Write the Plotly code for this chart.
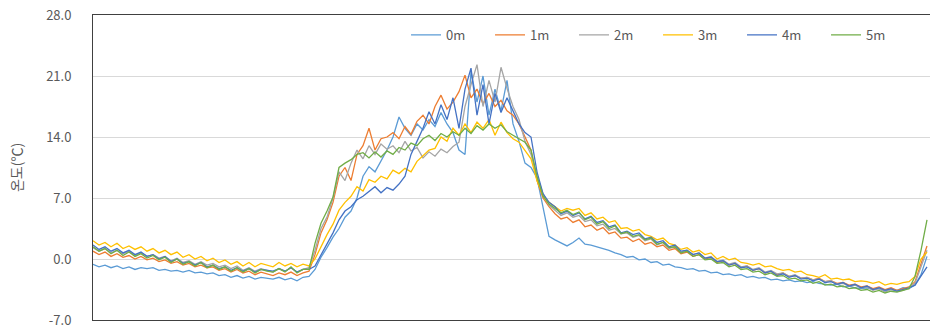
import plotly.graph_objects as go

series_names = ["0m", "1m", "2m", "3m", "4m", "5m"]
colors = ["#5B9BD5", "#ED7D31", "#A5A5A5", "#FFC000", "#4472C4", "#70AD47"]

t0m = [-0.6,-0.9,-0.7,-1.0,-0.8,-1.1,-0.9,-1.2,-1.0,-1.1,
       -1.0,-1.3,-1.2,-1.4,-1.3,-1.5,-1.3,-1.6,-1.5,-1.7,
       -1.6,-1.9,-1.8,-2.1,-1.9,-2.2,-2.0,-2.3,-2.1,-2.2,
       -2.3,-2.1,-2.4,-2.2,-2.5,-2.1,-2.0,-1.2,0.2,1.3,
       2.5,3.5,4.8,5.5,7.0,9.5,10.6,10.0,11.2,12.5,
       14.0,16.3,15.0,14.2,15.5,14.8,16.0,15.2,16.8,15.5,
       14.5,12.5,12.0,21.5,18.0,21.0,16.5,19.5,17.0,20.5,
       15.5,13.5,11.0,10.5,9.3,5.9,2.6,2.2,1.8,1.5,
       1.9,2.4,1.7,1.6,1.4,1.2,1.0,0.7,0.5,0.2,
       0.3,-0.1,0.0,-0.4,-0.3,-0.7,-0.6,-0.9,-1.0,-1.2,
       -1.1,-1.4,-1.3,-1.6,-1.5,-1.8,-1.7,-1.9,-1.8,-2.1,
       -2.0,-2.2,-2.1,-2.4,-2.3,-2.5,-2.4,-2.6,-2.5,-2.7,
       -2.6,-2.8,-2.9,-3.0,-2.9,-3.2,-3.1,-3.3,-3.4,-3.3,
       -3.5,-3.4,-3.7,-3.5,-3.6,-3.3,-3.4,-3.0,-1.8,0.3]

t1m = [0.9,0.5,0.8,0.3,0.6,0.2,0.4,0.0,0.3,-0.1,
       0.1,-0.3,-0.1,-0.5,-0.3,-0.7,-0.5,-0.9,-0.7,-1.0,
       -0.9,-1.3,-1.1,-1.5,-1.2,-1.6,-1.4,-1.8,-1.5,-1.7,
       -1.9,-1.6,-1.8,-1.5,-1.9,-1.6,-1.4,0.5,3.0,4.5,
       6.5,9.5,10.5,9.0,12.0,13.0,15.0,12.5,13.8,14.0,
       14.5,13.8,15.2,14.3,15.8,16.5,15.5,17.5,18.8,17.2,
       18.0,19.2,21.1,18.5,19.5,17.8,19.0,17.5,18.2,17.0,
       16.5,15.5,14.0,12.5,9.0,7.0,6.0,5.2,4.6,4.8,
       4.2,4.5,3.7,3.9,3.3,3.6,2.9,3.1,2.4,2.5,
       2.0,2.3,1.7,1.9,1.4,1.6,1.0,1.2,0.6,0.8,
       0.3,0.5,0.0,0.2,-0.4,-0.2,-0.7,-0.5,-1.0,-0.8,
       -1.3,-1.1,-1.6,-1.4,-1.8,-1.6,-2.0,-1.9,-2.2,-2.1,
       -2.4,-2.2,-2.6,-2.5,-2.8,-2.7,-3.0,-2.9,-3.2,-3.1,
       -3.4,-3.2,-3.5,-3.3,-3.6,-3.4,-3.2,-2.6,-0.5,1.5]

t2m = [1.3,0.9,1.2,0.7,1.0,0.6,0.9,0.4,0.7,0.3,
       0.5,0.1,0.3,-0.2,0.1,-0.4,-0.2,-0.6,-0.3,-0.7,
       -0.5,-0.9,-0.7,-1.1,-0.8,-1.3,-1.0,-1.4,-1.1,-1.3,
       -1.5,-1.1,-1.4,-1.0,-1.5,-1.2,-1.0,1.0,3.5,4.8,
       7.0,10.0,9.0,11.0,12.5,11.5,13.0,12.0,13.2,12.6,
       13.0,12.2,13.5,12.4,12.8,11.6,12.3,11.8,12.6,12.2,
       12.9,13.4,17.5,20.0,22.3,17.5,20.5,18.0,22.0,19.6,
       17.5,16.0,13.5,12.0,9.5,7.5,6.2,5.6,5.0,5.3,
       4.8,5.0,4.3,4.5,3.8,4.0,3.3,3.5,2.9,3.0,
       2.5,2.7,2.1,2.3,1.6,1.9,1.2,1.4,0.8,1.0,
       0.5,0.7,0.1,0.3,-0.3,-0.1,-0.6,-0.4,-0.9,-0.8,
       -1.2,-1.0,-1.5,-1.3,-1.7,-1.6,-2.0,-1.8,-2.2,-2.1,
       -2.4,-2.3,-2.6,-2.5,-2.9,-2.8,-3.1,-3.0,-3.3,-3.2,
       -3.6,-3.4,-3.8,-3.5,-3.7,-3.6,-3.3,-2.8,-1.0,1.0]

t3m = [2.1,1.6,1.9,1.4,1.8,1.2,1.5,1.1,1.4,0.9,
       1.2,0.7,1.0,0.5,0.8,0.2,0.5,0.0,0.3,-0.2,
       0.1,-0.4,-0.1,-0.6,-0.3,-0.8,-0.4,-0.9,-0.5,-0.7,
       -0.9,-0.4,-0.8,-0.5,-0.9,-0.6,-0.8,0.0,1.5,2.8,
       4.0,5.6,6.5,7.2,8.3,7.8,9.1,8.8,9.5,9.2,
       10.2,9.8,10.4,10.0,11.2,11.8,12.5,12.7,14.0,13.5,
       15.0,14.2,15.5,14.5,15.7,15.0,16.0,14.2,15.7,14.5,
       13.8,13.4,12.5,11.5,9.0,7.3,6.5,6.0,5.5,5.8,
       5.6,5.8,5.0,5.3,4.6,4.8,4.2,4.4,3.5,3.6,
       3.2,3.4,2.8,2.6,2.2,2.4,1.8,1.6,1.1,1.3,
       0.8,1.0,0.5,0.7,0.0,0.3,-0.1,0.1,-0.4,-0.5,
       -0.7,-0.5,-0.9,-0.8,-1.1,-1.3,-1.2,-1.5,-1.4,-1.8,
       -1.9,-2.1,-1.8,-2.3,-2.2,-2.4,-2.3,-2.6,-2.5,-2.6,
       -2.8,-2.6,-3.0,-2.8,-2.9,-2.7,-2.6,-2.0,0.0,0.8]

t4m = [1.6,1.1,1.4,0.9,1.2,0.7,1.0,0.5,0.8,0.3,
       0.5,0.0,0.3,-0.3,0.0,-0.5,-0.3,-0.7,-0.4,-0.9,
       -0.7,-1.1,-0.9,-1.3,-1.0,-1.4,-1.1,-1.5,-1.2,-1.3,
       -1.4,-1.1,-1.4,-1.0,-1.5,-1.2,-1.2,-0.8,0.5,1.8,
       3.0,4.5,5.5,6.0,6.8,7.2,7.8,8.3,7.6,8.2,
       7.9,8.6,9.5,12.0,13.5,15.0,16.9,15.5,17.7,16.0,
       18.5,15.0,19.5,21.9,16.5,20.0,15.5,19.0,16.8,18.5,
       17.0,15.5,14.5,14.0,10.0,7.5,6.5,6.0,5.2,5.5,
       5.0,5.3,4.6,4.9,4.2,4.4,3.7,3.9,3.0,3.2,
       2.8,3.0,2.3,2.5,1.9,2.1,1.4,1.6,0.9,1.0,
       0.5,0.7,0.1,0.2,-0.3,-0.2,-0.7,-0.5,-1.0,-0.9,
       -1.3,-1.1,-1.6,-1.4,-1.9,-1.7,-2.1,-1.9,-2.3,-2.2,
       -2.5,-2.3,-2.7,-2.6,-2.9,-2.7,-3.1,-2.9,-3.3,-3.1,
       -3.5,-3.3,-3.6,-3.4,-3.7,-3.5,-3.3,-3.0,-2.0,-0.9]

t5m = [1.4,0.9,1.2,0.6,1.0,0.4,0.8,0.3,0.6,0.1,
       0.4,-0.1,0.2,-0.4,0.0,-0.6,-0.3,-0.8,-0.4,-1.0,
       -0.7,-1.2,-0.9,-1.4,-1.0,-1.5,-1.1,-1.6,-1.2,-1.4,
       -1.5,-1.1,-1.5,-0.9,-1.6,-1.2,-1.2,1.8,4.1,5.5,
       7.1,10.5,11.0,11.4,12.0,12.2,11.6,12.3,11.7,12.4,
       12.0,12.8,12.5,13.3,13.0,13.8,14.2,13.6,14.4,14.0,
       14.6,14.2,15.0,14.4,15.3,14.8,15.5,15.0,15.4,14.6,
       14.2,13.8,13.4,12.5,9.5,7.2,6.3,5.8,5.3,5.6,
       5.1,5.4,4.5,4.8,4.0,4.3,3.5,3.8,2.9,3.1,
       2.6,2.8,2.2,2.4,1.7,1.9,1.3,1.4,0.7,0.9,
       0.3,0.5,-0.1,0.0,-0.5,-0.4,-0.9,-0.7,-1.2,-1.1,
       -1.5,-1.4,-1.8,-1.6,-2.0,-1.9,-2.3,-2.2,-2.5,-2.4,
       -2.8,-2.6,-3.0,-2.9,-3.2,-3.1,-3.4,-3.3,-3.6,-3.5,
       -3.8,-3.6,-3.9,-3.7,-3.8,-3.6,-3.4,-2.0,1.0,4.5]

y_ticks = [-7, 0, 7, 14, 21, 28]
y_tick_labels = ["-7.0", "0.0", "7.0", "14.0", "21.0", "28.0"]

all_series = [t0m, t1m, t2m, t3m, t4m, t5m]
x_vals = list(range(len(t0m)))

fig = go.Figure()
for name, color, ys in zip(series_names, colors, all_series):
    fig.add_trace(go.Scatter(x=x_vals, y=ys, mode="lines", name=name,
                             line=dict(color=color, width=1.3)))

fig.update_layout(
    width=930, height=328,
    margin=dict(l=93, r=0, t=15, b=8),
    plot_bgcolor="white", paper_bgcolor="white",
    font=dict(family="Noto Sans CJK KR, Noto Sans, sans-serif", color="#595959", size=13),
    showlegend=True,
    legend=dict(orientation="h", x=0.374, y=0.935, xanchor="left", yanchor="middle",
                bgcolor="rgba(0,0,0,0)", font=dict(size=13, color="#595959"),
                entrywidth=39, tracegroupgap=0),
    xaxis=dict(range=[0, 139.5], showgrid=False, zeroline=False, showticklabels=False,
               ticks="", showline=True, linecolor="#404040", linewidth=1, mirror=True),
    yaxis=dict(range=[-7, 28], tickvals=y_ticks, ticktext=y_tick_labels,
               showgrid=True, gridcolor="#D9D9D9", gridwidth=1, zeroline=False,
               showline=True, linecolor="#404040", linewidth=1, mirror=True,
               ticks="", ticklabelstandoff=18, ticklabeloverflow="allow",
               title=dict(text="온도(℃)", standoff=20, font=dict(size=14, color="#595959"))),
)

fig.write_html("out.html")
